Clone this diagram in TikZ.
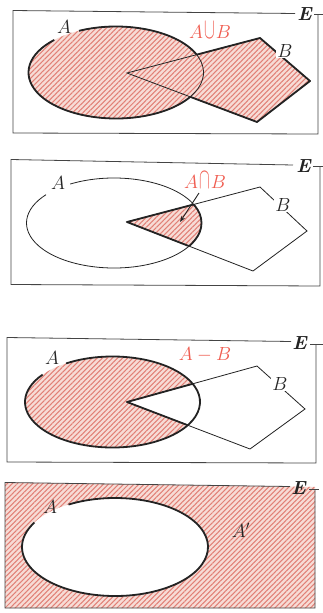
\documentclass[tikz,border=0pt]{standalone}
\usetikzlibrary{patterns.meta,arrows.meta}
\definecolor{hatchred}{RGB}{225,128,118}
\definecolor{pinkbg}{RGB}{247,220,214}
\definecolor{lblred}{RGB}{240,92,80}
\definecolor{ink}{RGB}{35,35,35}
\newcommand\tallcup{\mkern1mu\scalebox{0.85}[1.55]{$\cup$}\mkern1mu}
\newcommand\tallcap{\mkern1mu\scalebox{0.85}[1.55]{$\cap$}\mkern1mu}
\newcommand\lb[1]{\scalebox{1.1}{#1}}
\tikzset{
  hatch/.style={preaction={fill=pinkbg}, pattern={Lines[angle=45,distance=3.6pt,line width=1.05pt]}, pattern color=hatchred},
  thinln/.style={draw=ink, line width=0.8pt},
  thickln/.style={draw=ink, line width=1.8pt, line join=round},
  boxln/.style={draw=ink!85, line width=0.8pt},
  lbl/.style={font=\fontsize{17.28}{20}\selectfont, text=ink, inner sep=1pt},
  rlbl/.style={lbl, text=lblred},
  outside/.style={insert path={(-20,-20) rectangle (350,640)}},
  q1/.style={insert path={(127,73)--(260,38)--(310,81)--(257,122)--cycle}},
  q2/.style={insert path={(127,222)--(260,187)--(307,231)--(253,271)--cycle}},
  q3/.style={insert path={(127,402)--(257,366)--(305,409)--(250,449)--cycle}},
  e1/.style={insert path={(116,72.5) ellipse[x radius=87.5,y radius=46]}},
  e2/.style={insert path={(114,223) ellipse[x radius=87.5,y radius=45]}},
  e3/.style={insert path={(112.5,402) ellipse[x radius=87.5,y radius=45.5]}},
  e4/.style={insert path={(115,547) ellipse[x radius=93,y radius=49]}},
  a1/.style={insert path={(116,72.5) ++(-115:87.5 and 46) arc[start angle=-115,end angle=225,x radius=87.5,y radius=46]}},
  a2/.style={insert path={(114,223) ++(-120:87.5 and 45) arc[start angle=-120,end angle=219,x radius=87.5,y radius=45]}},
  a3/.style={insert path={(112.5,402) ++(-122:87.5 and 45.5) arc[start angle=-122,end angle=217,x radius=87.5,y radius=45.5]}},
  a4/.style={insert path={(115,547) ++(-120:93 and 49) arc[start angle=-120,end angle=210,x radius=93,y radius=49]}},
}
\begin{document}
\begin{tikzpicture}[x=1pt,y=-1pt]
\useasboundingbox[fill=white] (0,0) rectangle (323,613);

% ---------- Panel 1: union ----------
\fill[hatch, e1];
\fill[hatch, q1];
\draw[thinln, a1];
\draw[thinln, q1];
\begin{scope}[even odd rule]
  \clip[outside, q1];
  \draw[thickln, a1];
\end{scope}
\begin{scope}[even odd rule]
  \clip[outside, e1];
  \draw[thickln, q1];
\end{scope}
\draw[boxln] (295,13.5) -- (13,10.5) -- (13,133) -- (318,134) -- (318,14);
\draw[boxln] (314,14) -- (323,14);
\node[lbl] (E1) at (305,14) {\lb{\textbf{\textit{E}}}};
\node[lbl] (A1) at (64,27) {\lb{$A$}};
\node[lbl, fill=white] (B1) at (285,51) {\lb{$B$}};
\node[rlbl] (U1) at (210,30) {\lb{$A\tallcup B$}};

% ---------- Panel 2: intersection ----------
\begin{scope}
  \clip[e2];
  \fill[hatch, q2];
\end{scope}
\draw[thinln, a2];
\draw[thinln, q2];
\begin{scope}
  \clip[q2];
  \draw[thickln, e2];
\end{scope}
\begin{scope}
  \clip[e2];
  \draw[thickln, q2];
\end{scope}
\draw[boxln] (293,165) -- (11,159.5) -- (11,284.5) -- (320,286) -- (320,166);
\draw[boxln] (313,166) -- (323,166);
\node[lbl] (E2) at (304,166) {\lb{\textbf{\textit{E}}}};
\node[lbl] (A2) at (58,183) {\lb{$A$}};
\node[lbl, fill=white] (B2) at (283,205) {\lb{$B$}};
\node[rlbl] (I2) at (205,180) {\lb{$A\tallcap B$}};
\coordinate (T2) at (180,222);
\draw[ink, line width=0.9pt, -{Stealth[length=6pt,width=4.5pt]}] (199,193) -- (T2);

% ---------- Panel 3: difference ----------
\begin{scope}[even odd rule]
  \clip[outside, q3];
  \fill[hatch, e3];
\end{scope}
\draw[thinln, q3];
\draw[thickln, a3];
\begin{scope}
  \clip[e3];
  \draw[thickln, q3];
\end{scope}
\draw[boxln] (291,341.5) -- (7,337.5) -- (7,462) -- (316,463) -- (316,344);
\draw[boxln] (310,344) -- (323,344);
\node[lbl] (E3) at (300,343) {\lb{\textbf{\textit{E}}}};
\node[lbl] (A3) at (52,358) {\lb{$A$}};
\node[lbl, fill=white] (B3) at (280,384) {\lb{$B$}};
\node[rlbl] (D3) at (205,355) {\lb{$A-B$}};

% ---------- Panel 4: complement ----------
\fill[hatch] (5,482.5) -- (290,486.5) -- (315,487) -- (315,608) -- (5,608) -- cycle;
\fill[white, e4];
\draw[thickln, a4];
\draw[boxln] (290,486.5) -- (5,482.5) -- (5,608) -- (315,608) -- (315,489);
\draw[boxln] (309,489) -- (319,489);
\node[lbl] (E4) at (299,488) {\lb{\textbf{\textit{E}}}};
\node[lbl] (A4) at (50,507) {\lb{$A$}};
\node[lbl] (C4) at (241,530) {\lb{$A'$}};
\end{tikzpicture}
\end{document}
